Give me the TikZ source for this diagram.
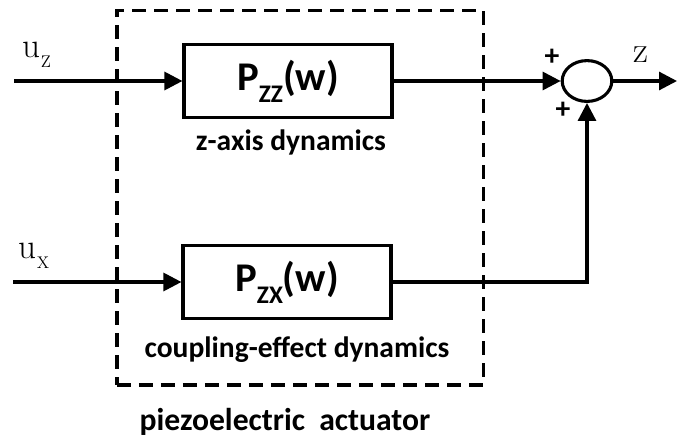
\documentclass[tikz,border=0pt]{standalone}
\usepackage{fontspec}
\newfontfamily\carlito{Carlito}
\usepackage{tikz}
\usetikzlibrary{shapes.geometric,arrows.meta,positioning}
\tikzset{
  blockbox/.style={draw, line width=2.2pt, minimum width=5.2cm, minimum height=1.82cm, inner sep=0pt, font=\carlito\bfseries\fontsize{29}{29}\selectfont},
  sumnode/.style={draw, ellipse, line width=2.2pt, minimum width=1.24cm, minimum height=1.02cm, inner sep=0pt},
  dashbox/.style={draw, line width=2.2pt, dash pattern=on 0.34cm off 0.21cm, minimum width=9.15cm, minimum height=9.37cm},
  sigarrow/.style={-{Triangle[length=0.45cm,width=0.45cm]}, line width=2.2pt},
  caption/.style={font=\carlito\bfseries\fontsize{21}{21}\selectfont, inner sep=0pt},
  siglabel/.style={font=\fontsize{25}{25}\selectfont, inner sep=0pt},
}
\newcommand{\subsig}[1]{\raisebox{-0.3em}{\fontsize{12}{12}\selectfont #1}}
\newcommand{\subblk}[1]{\raisebox{-0.3em}{\fontsize{18}{18}\selectfont #1}}

\begin{document}
\begin{tikzpicture}[x=0.025cm, y=-0.025cm]
  \useasboundingbox (0,0) rectangle (677,441);

  % Actuator frame
  \node[dashbox] (act) at (300,197.5) {};
  \node[caption, font=\carlito\bfseries\fontsize{22.5}{22.5}\selectfont] (actlbl) at (285,422) {piezoelectric\hspace{0.45em}actuator};

  % Blocks
  \node[blockbox] (pzz) at (288,81) {P\subblk{ZZ}(w)};
  \node[caption] (pzzlbl) at (291,142) {z-axis dynamics};
  \node[blockbox] (pzx) at (287,282) {P\subblk{ZX}(w)};
  \node[caption] (pzxlbl) at (297,350) {coupling-effect dynamics};

  % Summing junction
  \node[sumnode] (sum) at (587,81) {};
  \node[caption] (plusa) at (552,57) {+};
  \node[caption] (plusb) at (563,110) {+};

  % Signals
  \coordinate (inz) at (14,81);
  \coordinate (inx) at (13,282);
  \coordinate (out) at (677,81);
  \node[siglabel] (uz) at (37,55) {u\subsig{Z}};
  \node[siglabel] (ux) at (34,256) {u\subsig{X}};
  \node[siglabel, font=\fontsize{26}{26}\selectfont] (zout) at (641,55) {z};

  \draw[sigarrow] (inz) -- (pzz);
  \draw[sigarrow] (inx) -- (pzx);
  \draw[sigarrow] (pzz) -- (sum);
  \draw[sigarrow] (pzx.east) -| (sum.south);
  \draw[sigarrow] (sum) -- (out);
\end{tikzpicture}
\end{document}
